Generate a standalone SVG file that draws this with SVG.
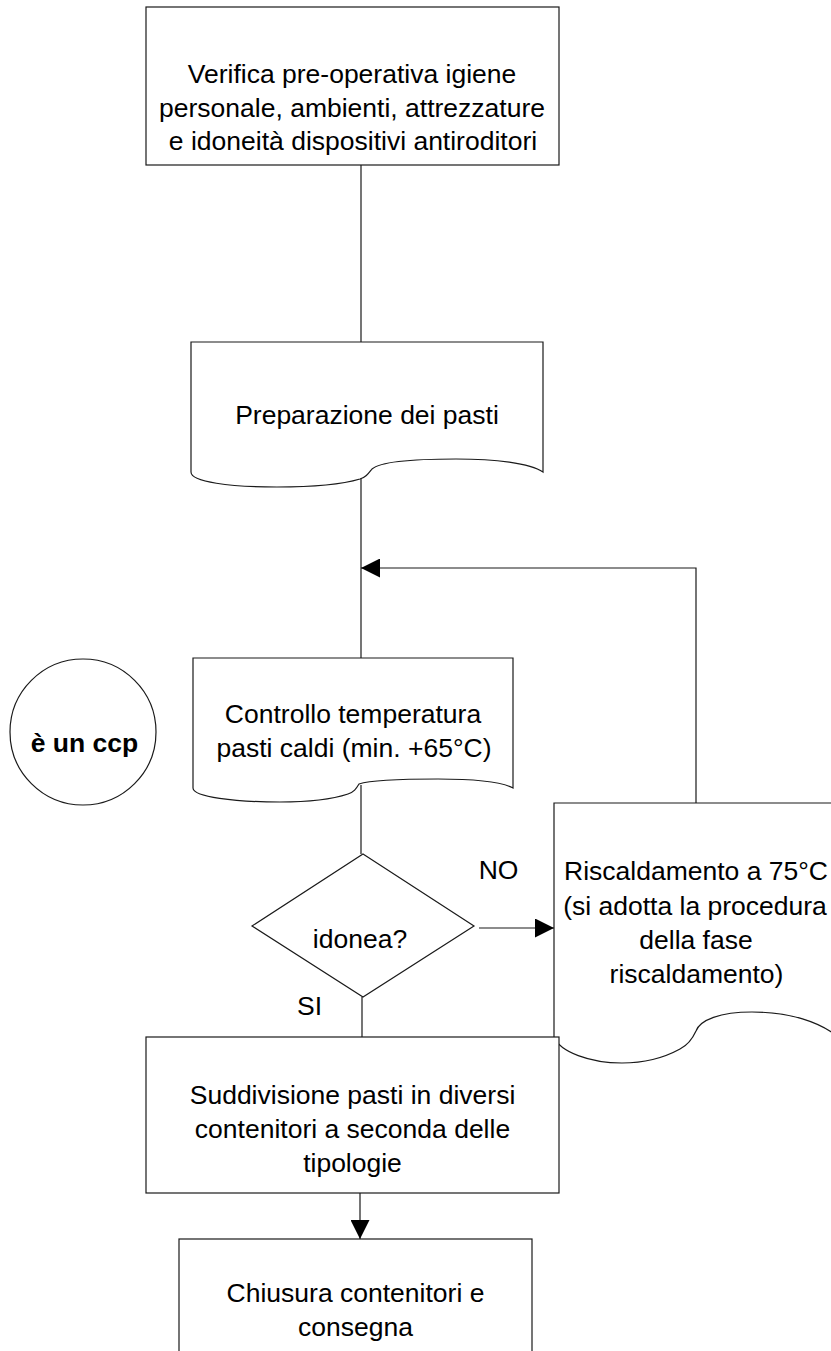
<svg xmlns="http://www.w3.org/2000/svg" width="831" height="1351" viewBox="0 0 831 1351">
<style>
  .shape { fill: #ffffff; stroke: #1a1a1a; stroke-width: 1.2; }
  .conn { fill: none; stroke: #1a1a1a; stroke-width: 1.2; }
  text { font-family: "Liberation Sans", Arial, sans-serif; font-size: 26.5px; fill: #000000; text-anchor: middle; }
  .bold { font-weight: bold; }
</style>
<defs>
  <marker id="arrow" viewBox="0 0 19 19" markerWidth="19" markerHeight="19" refX="19" refY="9.5" orient="auto" markerUnits="userSpaceOnUse">
    <path d="M0,0 L19,9.5 L0,19 Z" fill="#000000"/>
  </marker>
</defs>
<rect width="831" height="1351" fill="#ffffff"/>

<g id="connectors">
  <path class="conn" d="M361,165 V342"/>
  <path class="conn" d="M361,478 V658"/>
  <path class="conn" d="M361,785 V854"/>
  <path class="conn" d="M362,997 V1037"/>
  <path class="conn" d="M479,928 H554" marker-end="url(#arrow)"/>
  <path class="conn" d="M696,803 V568 H361" marker-end="url(#arrow)"/>
  <path class="conn" d="M360,1193 V1239" marker-end="url(#arrow)"/>
</g>

<g id="node-verifica">
  <rect class="shape" x="146" y="7" width="413" height="158"/>
  <text x="352" y="83">Verifica pre-operativa igiene</text>
  <text x="352" y="116.5">personale, ambienti, attrezzature</text>
  <text x="353" y="150">e idoneità dispositivi antiroditori</text>
</g>

<g id="node-preparazione">
  <path class="shape" d="M191,342 H543 V472 C530,463 495,459 456,459 C415,459 380,462 372,469 C368,474 366,477 360,479 C340,485 310,487 277,487 C230,487 191,482 191,472 Z"/>
  <text x="367" y="424">Preparazione dei pasti</text>
</g>

<g id="node-ccp">
  <circle class="shape" cx="83" cy="732" r="73"/>
  <text class="bold" x="84.5" y="752">è un ccp</text>
</g>

<g id="node-controllo">
  <path class="shape" d="M193,658 H513 V788 C502,782 475,779 438,779 C400,779 368,781 359,784 C356,789 354,792 348,794 C330,800 305,802 280,802 C235,802 193,797 193,788 Z"/>
  <text x="353" y="723">Controllo temperatura</text>
  <text x="354" y="757">pasti caldi (min. +65°C)</text>
</g>

<g id="node-idonea">
  <polygon class="shape" points="363,854 474,926 363,997 252,926"/>
  <text x="360" y="948">idonea?</text>
</g>

<g id="labels">
  <text x="498.5" y="879">NO</text>
  <text x="309.5" y="1015">SI</text>
</g>

<g id="node-riscaldamento">
  <path class="shape" d="M554,803 H838 V1037 C820,1022 790,1012 752,1012 C720,1012 700,1020 696,1031 C691,1042 686,1046 680,1049 C660,1060 640,1063 622,1063 C590,1063 560,1052 554,1037 Z"/>
  <text x="696" y="880">Riscaldamento a 75°C</text>
  <text x="695" y="914.5">(si adotta la procedura</text>
  <text x="696" y="948.5">della fase </text>
  <text x="696.5" y="983">riscaldamento)</text>
</g>

<g id="node-suddivisione">
  <rect class="shape" x="146" y="1037" width="413" height="156"/>
  <text x="352.5" y="1104">Suddivisione pasti in diversi</text>
  <text x="352.5" y="1138">contenitori a seconda delle</text>
  <text x="352.5" y="1172">tipologie</text>
</g>

<g id="node-chiusura">
  <rect class="shape" x="179" y="1239" width="353" height="140"/>
  <text x="355.5" y="1302">Chiusura contenitori e</text>
  <text x="355.5" y="1336">consegna</text>
</g>
</svg>
